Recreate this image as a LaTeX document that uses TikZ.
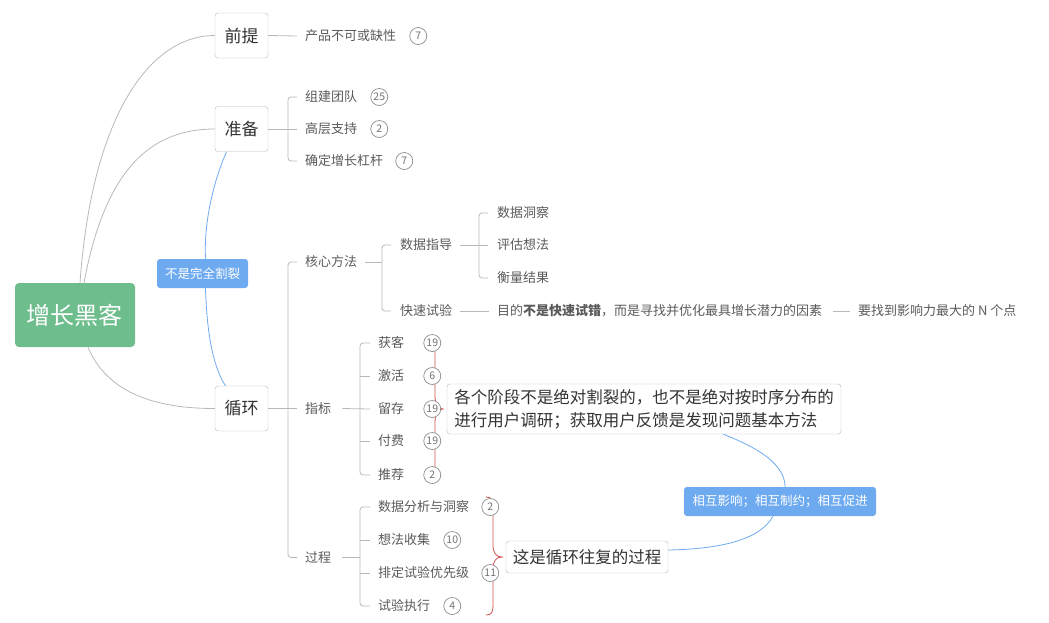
\documentclass[tikz,border=0pt]{standalone}
\usepackage{fontspec}
\setmainfont{Noto Sans CJK SC}
\usetikzlibrary{positioning,backgrounds}
\definecolor{rootgreen}{HTML}{6DBE8C}
\definecolor{tagblue}{HTML}{6EAAF0}
\definecolor{linegray}{HTML}{B8B8B8}
\definecolor{txtgray}{HTML}{5A5A5A}
\definecolor{bracered}{HTML}{D0524E}

\begin{document}
\begin{tikzpicture}[x=1pt,y=-1pt,
 link/.style={draw=linegray,line width=0.8pt},
 bluelink/.style={draw=tagblue,line width=0.8pt},
 redbrace/.style={draw=bracered,line width=0.8pt},
 topic/.style={draw=linegray,fill=white,rounded corners=3pt,minimum width=53pt,minimum height=45pt,inner sep=0pt,font=\fontsize{17}{17}\selectfont,text=black!80},
 leaf/.style={anchor=west,inner sep=0pt,font=\fontsize{13}{13}\selectfont,text=txtgray},
 cnt/.style={circle,draw=black!45,fill=white,line width=0.7pt,minimum size=17pt,inner sep=0pt,font=\fontsize{10.5}{10.5}\selectfont,text=black!55},
 tag/.style={fill=tagblue,rounded corners=3pt,text=white,inner sep=0pt,minimum height=29pt,font=\fontsize{12.5}{12.5}\selectfont},
 note/.style={draw=linegray,fill=white,rounded corners=3pt,inner sep=0pt,font=\fontsize{16.5}{23}\selectfont,text=black!80}]

\useasboundingbox (0,0) rectangle (1049,622);

\node[fill=rootgreen,rounded corners=4pt,minimum width=120pt,minimum height=64pt,inner sep=0pt,text=white,font=\fontsize{24}{24}\selectfont] (root) at (75,315) {增长黑客};
\node[topic] (qt) at (241.5,35.5) {前提};
\node[topic] (zb) at (241.5,129) {准备};
\node[topic] (xh) at (241.5,408.5) {循环};

% 前提
\node[leaf] (qt1) at (305,36) {产品不可或缺性};
\node[cnt,right=13pt of qt1] (cqt1) {7};

% 准备
\node[leaf] (zb1) at (305,97) {组建团队};
\node[leaf] (zb2) at (305,129) {高层支持};
\node[leaf] (zb3) at (305,161) {确定增长杠杆};
\node[cnt,right=13pt of zb1] (czb1) {25};
\node[cnt,right=13pt of zb2] (czb2) {2};
\node[cnt,right=12pt of zb3] (czb3) {7};

% 循环
\node[leaf] (hx) at (305,262) {核心方法};
\node[leaf] (zbl) at (305,408.5) {指标};
\node[leaf] (gc) at (305,557.5) {过程};

\node[leaf] (sj) at (400,245) {数据指导};
\node[leaf] (ks) at (400,311) {快速试验};
\node[leaf] (sj1) at (497,213) {数据洞察};
\node[leaf] (sj2) at (497,245) {评估想法};
\node[leaf] (sj3) at (497,278) {衡量结果};
\node[leaf] (ks1) at (497,311) {目的\textbf{不是快速试错}，而是寻找并优化最具增长潜力的因素};
\node[leaf] (ks2) at (858,311) {要找到影响力最大的 N 个点};

\node[leaf] (zl1) at (378,343) {获客};
\node[leaf] (zl2) at (378,376) {激活};
\node[leaf] (zl3) at (378,409) {留存};
\node[leaf] (zl4) at (378,441) {付费};
\node[leaf] (zl5) at (378,475) {推荐};
\node[cnt,right=19pt of zl1] (czl1) {19};
\node[cnt,right=19pt of zl2] (czl2) {6};
\node[cnt,right=19pt of zl3] (czl3) {19};
\node[cnt,right=19pt of zl4] (czl4) {19};
\node[cnt,right=19pt of zl5] (czl5) {2};

\node[leaf] (gc1) at (378,507) {数据分析与洞察};
\node[leaf] (gc2) at (378,540) {想法收集};
\node[leaf] (gc3) at (378,573) {排定试验优先级};
\node[leaf] (gc4) at (378,606) {试验执行};
\node[cnt,right=12pt of gc1] (cgc1) {2};
\node[cnt,right=13pt of gc2] (cgc2) {10};
\node[cnt,right=12pt of gc3] (cgc3) {11};
\node[cnt,right=13pt of gc4] (cgc4) {4};

\node[note,align=left,minimum width=394pt,minimum height=50pt] (n1) at (644,409) {各个阶段不是绝对割裂的，也不是绝对按时序分布的\\进行用户调研；获取用户反馈是发现问题基本方法};
\node[note,minimum width=162pt,minimum height=32pt] (n2) at (587,557) {这是循环往复的过程};

\node[tag,minimum width=91pt] (t1) at (202.5,273.5) {不是完全割裂};
\node[tag,minimum width=192pt] (t2) at (780,501.5) {相互影响；相互制约；相互促进};

\draw[link] ([xshift=5pt]root.north) .. controls (92,115) and (150,35.5) .. (qt.west);
\draw[link] ([xshift=9pt]root.north) .. controls (105,170) and (150,129) .. (zb.west);
\draw[link] ([xshift=13pt]root.south) .. controls (110,400) and (170,408.5) .. (xh.west);

\draw[bluelink] ([xshift=-15pt]zb.south) .. controls (210,190) and (204,230) .. ([xshift=3pt]t1.north);
\draw[bluelink] ([xshift=3pt]t1.south) .. controls (207,340) and (215,370) .. ([xshift=-16pt]xh.north);
\draw[bluelink] ([xshift=79pt]n1.south) .. controls (770,452) and (785,470) .. ([xshift=5pt]t2.north);
\draw[bluelink] ([xshift=-7pt]t2.south) .. controls (760,540) and (720,549) .. ([yshift=7pt]n2.east);

\draw[link] (qt.east) -- ([xshift=-8pt]qt1.west);

\draw[link] (zb.east) -- ([xshift=-8pt]zb2.west);
\draw[link,rounded corners=3pt] ([xshift=-8pt]zb1.west) -| ([xshift=-17pt]zb2.west) |- ([xshift=-8pt]zb3.west);

\draw[link] (xh.east) -- ([xshift=-8pt]zbl.west);
\draw[link,rounded corners=3pt] ([xshift=-8pt]hx.west) -| ([xshift=-17pt]zbl.west) |- ([xshift=-8pt]gc.west);

\path (sj.west |- hx.east) ++(-18,0) coordinate (hxk);
\draw[link] ([xshift=8pt]hx.east) -- (hxk);
\draw[link,rounded corners=3pt] ([xshift=-9pt]sj.west) -| (hxk) |- ([xshift=-9pt]ks.west);

\draw[link] ([xshift=8pt]sj.east) -- ([xshift=-9pt]sj2.west);
\draw[link,rounded corners=3pt] ([xshift=-9pt]sj1.west) -| ([xshift=-18pt]sj2.west) |- ([xshift=-9pt]sj3.west);

\draw[link] ([xshift=8pt]ks.east) -- ([xshift=-8pt]ks1.west);
\draw[link] ([xshift=11pt]ks1.east) -- ([xshift=-8pt]ks2.west);

\draw[link] ([xshift=11pt]zbl.east) -- ([xshift=-8pt]zl3.west);
\draw[link,rounded corners=3pt] ([xshift=-8pt]zl1.west) -| ([xshift=-18pt]zl3.west) |- ([xshift=-8pt]zl5.west);
\draw[link] ([xshift=-18pt]zl2.west) -- ([xshift=-8pt]zl2.west);
\draw[link] ([xshift=-18pt]zl4.west) -- ([xshift=-8pt]zl4.west);

\path (gc1.west |- gc.east) ++(-18,0) coordinate (gck);
\draw[link] ([xshift=11pt]gc.east) -- (gck);
\draw[link,rounded corners=3pt] ([xshift=-8pt]gc1.west) -| (gck) |- ([xshift=-8pt]gc4.west);
\draw[link] ([xshift=-18pt]gc2.west) -- ([xshift=-8pt]gc2.west);
\draw[link] ([xshift=-18pt]gc3.west) -- ([xshift=-8pt]gc3.west);

\begin{scope}[on background layer]
\draw[redbrace] (435,343) -- (435,395) .. controls (435,405) and (438,409) .. (443,409) .. controls (438,409) and (435,413) .. (435,423) -- (435,475);
\draw[redbrace] (486,497) .. controls (492,497) and (493,500) .. (493,510) -- (493,545) .. controls (493,553) and (496,557) .. (502,557) .. controls (496,557) and (493,561) .. (493,569) -- (493,604) .. controls (493,612) and (492,615) .. (486,615);
\end{scope}
\end{tikzpicture}
\end{document}
